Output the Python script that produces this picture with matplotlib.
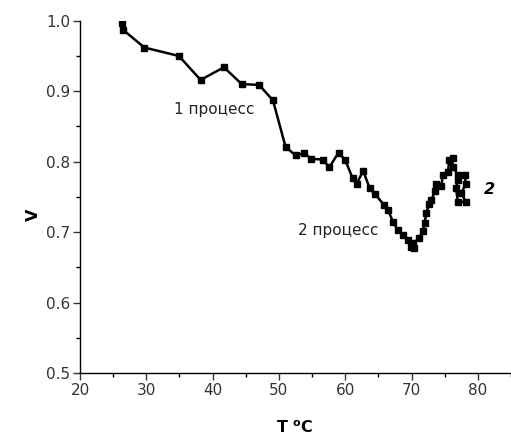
import numpy as np
import matplotlib
matplotlib.use("Agg")
from matplotlib import pyplot as plt
from matplotlib.ticker import MultipleLocator

# temperature (deg C) and V
temp = [26.3, 26.5, 29.7, 34.9, 38.2, 41.7, 44.4, 47.0, 49.1, 51.0,
        52.5, 53.8, 54.9, 56.6, 57.6, 59.0, 60.0, 61.1, 61.7, 62.7,
        63.7, 64.5, 65.8, 66.4, 67.2, 67.9, 68.7, 69.4, 69.9, 70.4,
        70.2, 71.1, 71.7, 72.0, 72.2, 72.7, 73.0, 73.5, 73.7, 74.5,
        74.7, 75.5, 75.7, 76.2, 76.2, 77.0, 78.0, 78.2, 77.5, 78.2,
        77.0, 76.7, 77.0]
v = [0.997, 0.987, 0.962, 0.950, 0.916, 0.934, 0.910, 0.909, 0.887, 0.821,
     0.809, 0.812, 0.804, 0.803, 0.792, 0.813, 0.802, 0.777, 0.768, 0.787,
     0.762, 0.754, 0.739, 0.732, 0.715, 0.703, 0.696, 0.689, 0.679, 0.677,
     0.684, 0.691, 0.701, 0.713, 0.727, 0.740, 0.745, 0.758, 0.769, 0.765,
     0.781, 0.786, 0.803, 0.805, 0.793, 0.781, 0.781, 0.769, 0.755, 0.743,
     0.743, 0.762, 0.774]

plt.rcParams['font.family'] = ['DejaVu Sans']
plt.rcParams['mathtext.default'] = 'regular'

fig = plt.figure(figsize=(5.11, 4.41), dpi=100)
ax = fig.add_axes([0.1566, 0.154, 0.8434, 0.799])

ax.plot(temp, v, color="black", linewidth=1.8, marker="s", markersize=4.5)

ax.set_xlim(20, 85)
ax.set_ylim(0.5, 1.0)
ax.xaxis.set_major_locator(MultipleLocator(10))
ax.xaxis.set_minor_locator(MultipleLocator(5))
ax.yaxis.set_major_locator(MultipleLocator(0.1))
ax.yaxis.set_minor_locator(MultipleLocator(0.05))
ax.yaxis.set_major_formatter(matplotlib.ticker.FormatStrFormatter("%.1f"))

for s in ["top", "right"]:
    ax.spines[s].set_visible(False)
for s in ["left", "bottom"]:
    ax.spines[s].set_linewidth(1.0)

ax.tick_params(which="major", length=5, width=1, labelsize=11, colors="#333333",
               direction="out", pad=2)
ax.tick_params(which="minor", length=3, width=1, direction="out")

ax.set_xlabel("T $^{o}$C", fontsize=11.5, fontweight="bold", va="center")
ax.xaxis.set_label_coords(0.499, -0.156)
ax.set_ylabel("V", fontsize=11.5, fontweight="bold", va="center")
ax.yaxis.set_label_coords(-0.109, 0.449)

ax.text(40.3, 0.874, "1 процесс", fontsize=11, ha="center", va="center",
        color="#222222")
ax.text(59.0, 0.702, "2 процесс", fontsize=11, ha="center", va="center",
        color="#222222")
ax.text(81.7, 0.760, "2", fontsize=11.5, fontweight="bold", style="italic",
        ha="center", va="center")

fig.savefig("out.png", dpi=100)
